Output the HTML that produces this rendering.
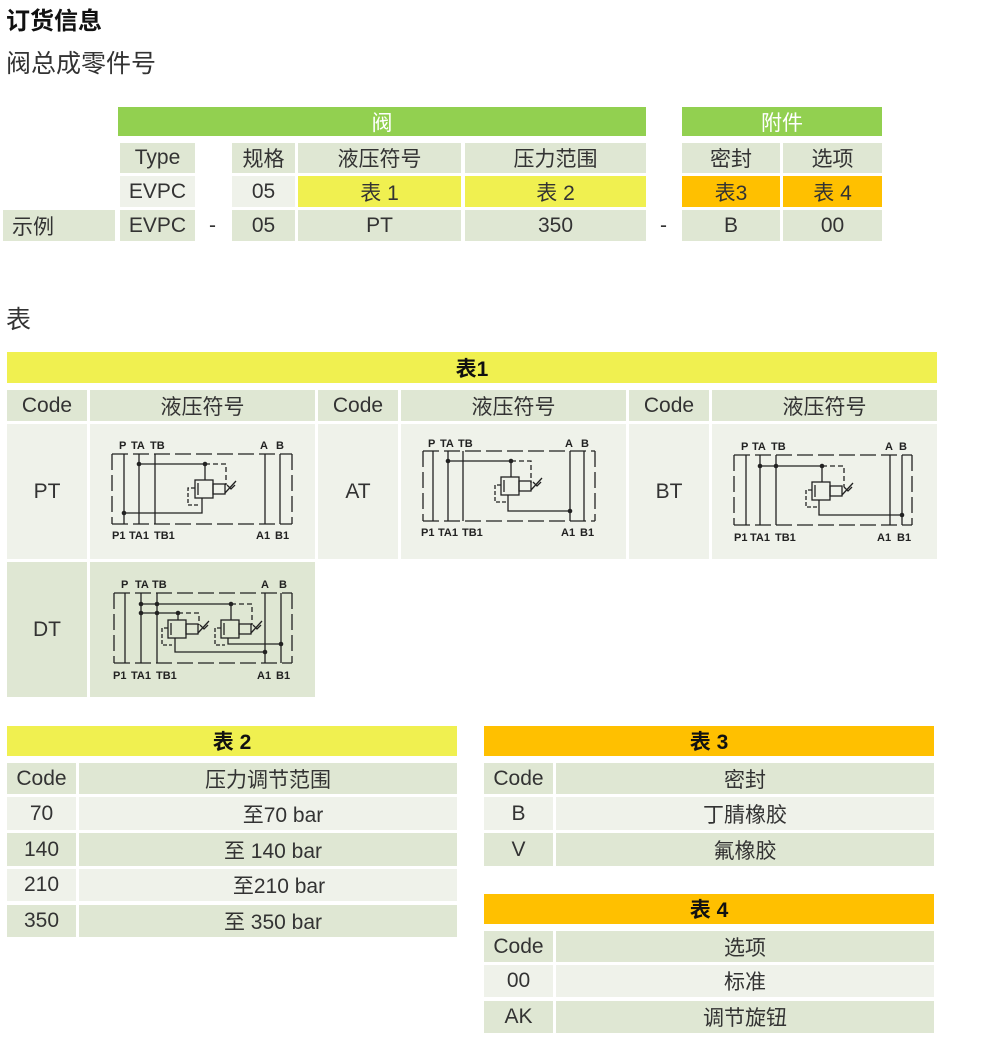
<!DOCTYPE html>
<html><head><meta charset="utf-8"><style>
body{margin:0;width:1000px;height:1044px;background:#fff;position:relative;font-family:"Liberation Sans","Noto Sans CJK SC",sans-serif;color:#333;overflow:hidden}
.c{position:absolute;display:flex;align-items:center;justify-content:center;font-size:21px;box-sizing:border-box;white-space:nowrap}
.h{background:#dfe7d3}.l{background:#eff2ea}.y{background:#f0f050}.o{background:#ffc000}.g{background:#92d050;color:#fff}
.b{font-weight:bold;color:#111}
.t{position:absolute;font-size:25px;white-space:nowrap}
svg{position:absolute}
svg text{font-family:"Liberation Sans",sans-serif;font-size:11px;font-weight:bold;fill:#222}
</style></head><body>
<div class="t b" style="left:6px;top:1px;font-size:24px">订货信息</div>
<div class="t" style="left:6px;top:44px">阀总成零件号</div>

<div class="c g" style="left:118px;top:107px;width:528px;height:29px">阀</div>
<div class="c g" style="left:682px;top:107px;width:200px;height:29px">附件</div>

<div class="c h" style="left:120px;top:143px;width:75px;height:30px">Type</div>
<div class="c h" style="left:232px;top:143px;width:63px;height:30px">规格</div>
<div class="c h" style="left:298px;top:143px;width:163px;height:30px">液压符号</div>
<div class="c h" style="left:465px;top:143px;width:181px;height:30px">压力范围</div>
<div class="c h" style="left:682px;top:143px;width:98px;height:30px">密封</div>
<div class="c h" style="left:783px;top:143px;width:99px;height:30px">选项</div>

<div class="c l" style="left:120px;top:176px;width:75px;height:31px">EVPC</div>
<div class="c l" style="left:232px;top:176px;width:63px;height:31px">05</div>
<div class="c y" style="left:298px;top:176px;width:163px;height:31px">表 1</div>
<div class="c y" style="left:465px;top:176px;width:181px;height:31px">表 2</div>
<div class="c o" style="left:682px;top:176px;width:98px;height:31px">表3</div>
<div class="c o" style="left:783px;top:176px;width:99px;height:31px">表 4</div>

<div class="c h" style="left:3px;top:210px;width:112px;height:31px;justify-content:flex-start;padding-left:9px">示例</div>
<div class="c h" style="left:120px;top:210px;width:75px;height:31px">EVPC</div>
<div class="c" style="left:200px;top:210px;width:25px;height:31px">-</div>
<div class="c h" style="left:232px;top:210px;width:63px;height:31px">05</div>
<div class="c h" style="left:298px;top:210px;width:163px;height:31px">PT</div>
<div class="c h" style="left:465px;top:210px;width:181px;height:31px">350</div>
<div class="c" style="left:651px;top:210px;width:25px;height:31px">-</div>
<div class="c h" style="left:682px;top:210px;width:98px;height:31px">B</div>
<div class="c h" style="left:783px;top:210px;width:99px;height:31px">00</div>

<div class="t" style="left:6px;top:300px">表</div>

<div class="c y b" style="left:7px;top:352px;width:930px;height:31px">表1</div>
<div class="c h" style="left:7px;top:390px;width:80px;height:31px">Code</div>
<div class="c h" style="left:90px;top:390px;width:225px;height:31px">液压符号</div>
<div class="c h" style="left:318px;top:390px;width:80px;height:31px">Code</div>
<div class="c h" style="left:401px;top:390px;width:225px;height:31px">液压符号</div>
<div class="c h" style="left:629px;top:390px;width:80px;height:31px">Code</div>
<div class="c h" style="left:712px;top:390px;width:225px;height:31px">液压符号</div>

<div class="c l" style="left:7px;top:424px;width:80px;height:135px">PT</div>
<div class="c l" style="left:90px;top:424px;width:225px;height:135px"></div>
<div class="c l" style="left:318px;top:424px;width:80px;height:135px">AT</div>
<div class="c l" style="left:401px;top:424px;width:225px;height:135px"></div>
<div class="c l" style="left:629px;top:424px;width:80px;height:135px">BT</div>
<div class="c l" style="left:712px;top:424px;width:225px;height:135px"></div>
<div class="c h" style="left:7px;top:562px;width:80px;height:135px">DT</div>
<div class="c h" style="left:90px;top:562px;width:225px;height:135px"></div>

<!-- PT -->
<svg style="left:90px;top:425px" width="225" height="135" stroke="#222" fill="none" stroke-width="1.3">
<g stroke-dasharray="16 5"><path d="M22 29H202M22 99H202M22 29V99M202 29V99"/></g>
<path d="M34 29V99M49 29V99M65 29V99M175 29V99M190 29V99M49 39H115V55M112 73V88H34"/>
<path d="M115 39H136V60" stroke-dasharray="5 3"/>
<path d="M105 63H98V80H110" stroke-dasharray="4 2"/>
<rect x="105" y="55" width="18" height="18"/><rect x="123" y="59" width="12" height="10"/>
<path d="M108 58V70M135 68L146 56M137 60l4 4 4-4"/>
<g fill="#222" stroke="none"><circle cx="49" cy="39" r="2.3"/><circle cx="115" cy="39" r="2.3"/><circle cx="34" cy="88" r="2.3"/></g>
<g stroke="none"><text x="29" y="24">P</text><text x="41" y="24">TA</text><text x="60" y="24">TB</text><text x="170" y="24">A</text><text x="186" y="24">B</text>
<text x="22" y="114">P1</text><text x="39" y="114">TA1</text><text x="64" y="114">TB1</text><text x="166" y="114">A1</text><text x="185" y="114">B1</text></g>
</svg>
<!-- AT -->
<svg style="left:401px;top:425px" width="225" height="135" stroke="#222" fill="none" stroke-width="1.3">
<g stroke-dasharray="16 5"><path d="M22 26H194M22 96H194M22 26V96M194 26V96"/></g>
<path d="M32 26V96M47 26V96M62 26V96M169 26V96M183 26V96M47 36H110V52M107 70V86H169"/>
<path d="M110 36H130V58" stroke-dasharray="5 3"/>
<path d="M100 60H94V77H105" stroke-dasharray="4 2"/>
<rect x="100" y="52" width="18" height="18"/><rect x="118" y="56" width="12" height="10"/>
<path d="M103 55V67M130 65L141 53M132 57l4 4 4-4"/>
<g fill="#222" stroke="none"><circle cx="47" cy="36" r="2.3"/><circle cx="110" cy="36" r="2.3"/><circle cx="169" cy="86" r="2.3"/></g>
<g stroke="none"><text x="27" y="22">P</text><text x="39" y="22">TA</text><text x="57" y="22">TB</text><text x="164" y="22">A</text><text x="180" y="22">B</text>
<text x="20" y="111">P1</text><text x="37" y="111">TA1</text><text x="61" y="111">TB1</text><text x="160" y="111">A1</text><text x="179" y="111">B1</text></g>
</svg>
<!-- BT -->
<svg style="left:712px;top:425px" width="225" height="135" stroke="#222" fill="none" stroke-width="1.3">
<g stroke-dasharray="16 5"><path d="M22 30H200M22 100H200M22 30V100M200 30V100"/></g>
<path d="M34 30V100M48 30V100M64 30V100M178 30V100M190 30V100M48 41H110V57M107 75V90H190"/>
<path d="M110 41H132V62" stroke-dasharray="5 3"/>
<path d="M100 65H94V82H105" stroke-dasharray="4 2"/>
<rect x="100" y="57" width="18" height="18"/><rect x="118" y="61" width="12" height="10"/>
<path d="M103 60V72M130 70L141 58M132 62l4 4 4-4"/>
<g fill="#222" stroke="none"><circle cx="48" cy="41" r="2.3"/><circle cx="64" cy="41" r="2.3"/><circle cx="110" cy="41" r="2.3"/><circle cx="190" cy="90" r="2.3"/></g>
<g stroke="none"><text x="29" y="25">P</text><text x="40" y="25">TA</text><text x="59" y="25">TB</text><text x="173" y="25">A</text><text x="187" y="25">B</text>
<text x="22" y="116">P1</text><text x="38" y="116">TA1</text><text x="63" y="116">TB1</text><text x="165" y="116">A1</text><text x="185" y="116">B1</text></g>
</svg>
<!-- DT -->
<svg style="left:90px;top:562px" width="225" height="135" stroke="#222" fill="none" stroke-width="1.3">
<g stroke-dasharray="16 5"><path d="M24 31H202M24 101H202M24 31V101M202 31V101"/></g>
<path d="M35 31V101M51 31V101M67 31V101M175 31V101M191 31V101M51 42H141V58M51 51H88V58M85 76V90H175M138 76V82H191"/>
<path d="M88 51H109V63M141 42H162V63" stroke-dasharray="5 3"/>
<path d="M78 66H72V83H82M131 66H125V83H135" stroke-dasharray="4 2"/>
<rect x="78" y="58" width="18" height="18"/><rect x="96" y="62" width="12" height="10"/>
<rect x="131" y="58" width="18" height="18"/><rect x="149" y="62" width="12" height="10"/>
<path d="M81 61V73M108 71L119 59M110 63l4 4 4-4M134 61V73M161 71L172 59M163 63l4 4 4-4"/>
<g fill="#222" stroke="none"><circle cx="51" cy="42" r="2.3"/><circle cx="67" cy="42" r="2.3"/><circle cx="141" cy="42" r="2.3"/><circle cx="51" cy="51" r="2.3"/><circle cx="67" cy="51" r="2.3"/><circle cx="88" cy="51" r="2.3"/><circle cx="175" cy="90" r="2.3"/><circle cx="191" cy="82" r="2.3"/></g>
<g stroke="none"><text x="31" y="26">P</text><text x="45" y="26">TA</text><text x="62" y="26">TB</text><text x="171" y="26">A</text><text x="189" y="26">B</text>
<text x="23" y="117">P1</text><text x="41" y="117">TA1</text><text x="66" y="117">TB1</text><text x="167" y="117">A1</text><text x="186" y="117">B1</text></g>
</svg>

<!-- Table 2 -->
<div class="c y b" style="left:7px;top:726px;width:450px;height:30px">表 2</div>
<div class="c h" style="left:7px;top:763px;width:69px;height:31px">Code</div>
<div class="c h" style="left:79px;top:763px;width:378px;height:31px">压力调节范围</div>
<div class="c l" style="left:7px;top:797px;width:69px;height:33px">70</div>
<div class="c l" style="left:79px;top:797px;width:378px;height:33px;padding-left:30px">至70 bar</div>
<div class="c h" style="left:7px;top:833px;width:69px;height:33px">140</div>
<div class="c h" style="left:79px;top:833px;width:378px;height:33px;padding-left:10px">至 140 bar</div>
<div class="c l" style="left:7px;top:869px;width:69px;height:32px">210</div>
<div class="c l" style="left:79px;top:869px;width:378px;height:32px;padding-left:22px">至210 bar</div>
<div class="c h" style="left:7px;top:905px;width:69px;height:32px">350</div>
<div class="c h" style="left:79px;top:905px;width:378px;height:32px;padding-left:10px">至 350 bar</div>

<!-- Table 3 -->
<div class="c o b" style="left:484px;top:726px;width:450px;height:30px">表 3</div>
<div class="c h" style="left:484px;top:763px;width:69px;height:31px">Code</div>
<div class="c h" style="left:556px;top:763px;width:378px;height:31px">密封</div>
<div class="c l" style="left:484px;top:797px;width:69px;height:33px">B</div>
<div class="c l" style="left:556px;top:797px;width:378px;height:33px">丁腈橡胶</div>
<div class="c h" style="left:484px;top:833px;width:69px;height:33px">V</div>
<div class="c h" style="left:556px;top:833px;width:378px;height:33px">氟橡胶</div>

<!-- Table 4 -->
<div class="c o b" style="left:484px;top:894px;width:450px;height:30px">表 4</div>
<div class="c h" style="left:484px;top:931px;width:69px;height:31px">Code</div>
<div class="c h" style="left:556px;top:931px;width:378px;height:31px">选项</div>
<div class="c l" style="left:484px;top:965px;width:69px;height:32px">00</div>
<div class="c l" style="left:556px;top:965px;width:378px;height:32px">标准</div>
<div class="c h" style="left:484px;top:1001px;width:69px;height:32px">AK</div>
<div class="c h" style="left:556px;top:1001px;width:378px;height:32px">调节旋钮</div>
</body></html>
